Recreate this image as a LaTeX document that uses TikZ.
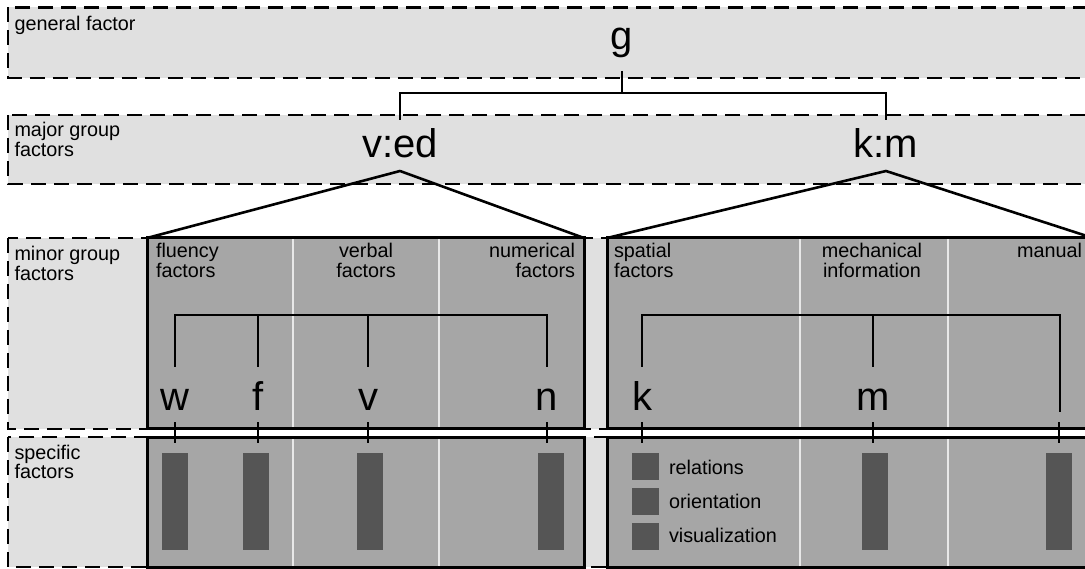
\documentclass[tikz,border=0pt]{standalone}
\usepackage{fontspec}
\setmainfont{Liberation Sans}
\usetikzlibrary{calc}
\definecolor{bandgray}{gray}{0.878}
\definecolor{boxgray}{gray}{0.65}
\definecolor{bargray}{gray}{0.333}
\definecolor{divgray}{gray}{0.91}
\newcommand\mystrut{\rule{0pt}{15pt}}
\begin{document}
\begin{tikzpicture}[x=1pt,y=-1pt,
  band/.style={fill=bandgray,draw=black,line width=2.2pt,dash pattern=on 15pt off 8pt},
  boxfill/.style={fill=boxgray,inner sep=0pt,outer sep=0pt,anchor=north west},
  boxline/.style={draw=black,line width=3pt},
  divider/.style={draw=divgray,line width=2pt},
  bracket/.style={draw=black,line width=2.8pt},
  tri/.style={draw=black,line width=2.6pt,line join=round},
  tickline/.style={draw=black,line width=2.8pt},
  bar/.style={fill=bargray,inner sep=0pt,minimum width=26.5pt,minimum height=97pt},
  sq/.style={fill=bargray,inner sep=0pt,minimum width=26.5pt,minimum height=27pt,anchor=north west},
  big/.style={font=\fontsize{40}{40}\selectfont,inner sep=0pt,outer sep=0pt,anchor=base},
  lab/.style={font=\fontsize{19.8}{19.5}\selectfont,inner sep=0pt,outer sep=0pt},
]
\useasboundingbox (0,0) rectangle (1085,569);
\clip (0,0) rectangle (1085,569);
% bands
\path[band] (8,7.5) rectangle (1110,78);
\path[band] (8,115) rectangle (1110,184);
\path[band] (8,238) rectangle (1110,429);
\path[band] (8,437) rectangle (1110,567);
% band labels
\node[lab,anchor=north west,align=left] (lgen) at (14.5,15.5) {\mystrut general factor};
\node[lab,anchor=north west,align=left] (lmaj) at (14.5,122) {\mystrut major group\\factors};
\node[lab,anchor=north west,align=left] (lmin) at (14.5,246) {\mystrut minor group\\factors};
\node[lab,anchor=north west,align=left] (lspl) at (14.5,444) {\mystrut specific\\factors};
% boxes
\node[boxfill,minimum width=437pt,minimum height=190.5pt] (lminor) at (147,238) {};
\node[boxfill,minimum width=437pt,minimum height=130pt] (lspec) at (147,437) {};
\node[boxfill,minimum width=486pt,minimum height=190.5pt] (rminor) at (607,238) {};
\node[boxfill,minimum width=486pt,minimum height=130pt] (rspec) at (607,437) {};
\foreach \b in {lminor,lspec}
  \foreach \xx in {293,439}
    \draw[divider] (\xx,0 |- \b.north) -- (\xx,0 |- \b.south);
\foreach \b in {rminor,rspec}
  \foreach \xx in {800,948}
    \draw[divider] (\xx,0 |- \b.north) -- (\xx,0 |- \b.south);
\foreach \b in {lminor,lspec,rminor,rspec}
  \draw[boxline] (\b.north west) rectangle (\b.south east);
% top letters
\node[big,text depth=21pt] (g) at (622,50) {g};
\node[big,text height=38pt,text depth=13pt] (ved) at (400,158) {v:ed};
\node[big,text height=38pt,text depth=13pt] (km) at (886,158) {k:m};
\coordinate (glev) at (0,93);
\draw[bracket] (ved.north) |- (glev -| km.north) -- (km.north);
\draw[bracket] (g.south) -- (g.south |- glev);
% triangles
\draw[tri] (lminor.north west) -- (ved.south) -- (lminor.north east);
\draw[tri] (rminor.north west) -- (km.south) -- (rminor.north east);
% box labels
\node[lab,anchor=north west,align=left] (tflu) at (156,243) {\mystrut fluency\\factors};
\node[lab,anchor=north,align=center] (tver) at (366,243) {\mystrut verbal\\factors};
\node[lab,anchor=north east,align=right] (tnum) at (575,243) {\mystrut numerical\\factors};
\node[lab,anchor=north west,align=left] (tspa) at (614,243) {\mystrut spatial\\factors};
\node[lab,anchor=north,align=center] (tmec) at (872,243) {\mystrut mechanical\\information};
\node[lab,anchor=north east,align=right] (tman) at (1082,243) {\mystrut manual};
% minor factor letters
\foreach \n/\xx in {w/175, f/258, v/368, n/547, k/642, m/873}
  \node[big,text height=43pt] (\n) at (\xx,410) {\n};
\coordinate (lev) at (0,315);
\coordinate (man) at (1060,412);
\draw[bracket] (w.north) |- (lev -| n.north) -- (n.north);
\draw[bracket] (f.north) -- (f.north |- lev);
\draw[bracket] (v.north) -- (v.north |- lev);
\draw[bracket] (k.north) |- (lev -| man) -- (man);
\draw[bracket] (m.north) -- (m.north |- lev);
% ticks
\foreach \n in {w,f,v,n,k,m}
  \draw[tickline] (\n.base) ++(0,12) -- ++(0,21);
\draw[tickline] (man) ++(-1,10) -- ++(0,21);
% specific bars
\foreach \n/\xx in {wb/175, fb/256, vb/370, nb/551, mb/875, manb/1059}
  \node[bar] (\n) at (\xx,501.5) {};
% spatial legend
\node[sq] (s1) at (632,453) {};
\node[sq] (s2) at (632,488) {};
\node[sq] (s3) at (632,523) {};
\node[lab,anchor=base west] (trel) at (669,474) {relations};
\node[lab,anchor=base west] (tori) at (669,508) {orientation};
\node[lab,anchor=base west] (tvis) at (669,542) {visualization};
\end{tikzpicture}
\end{document}
